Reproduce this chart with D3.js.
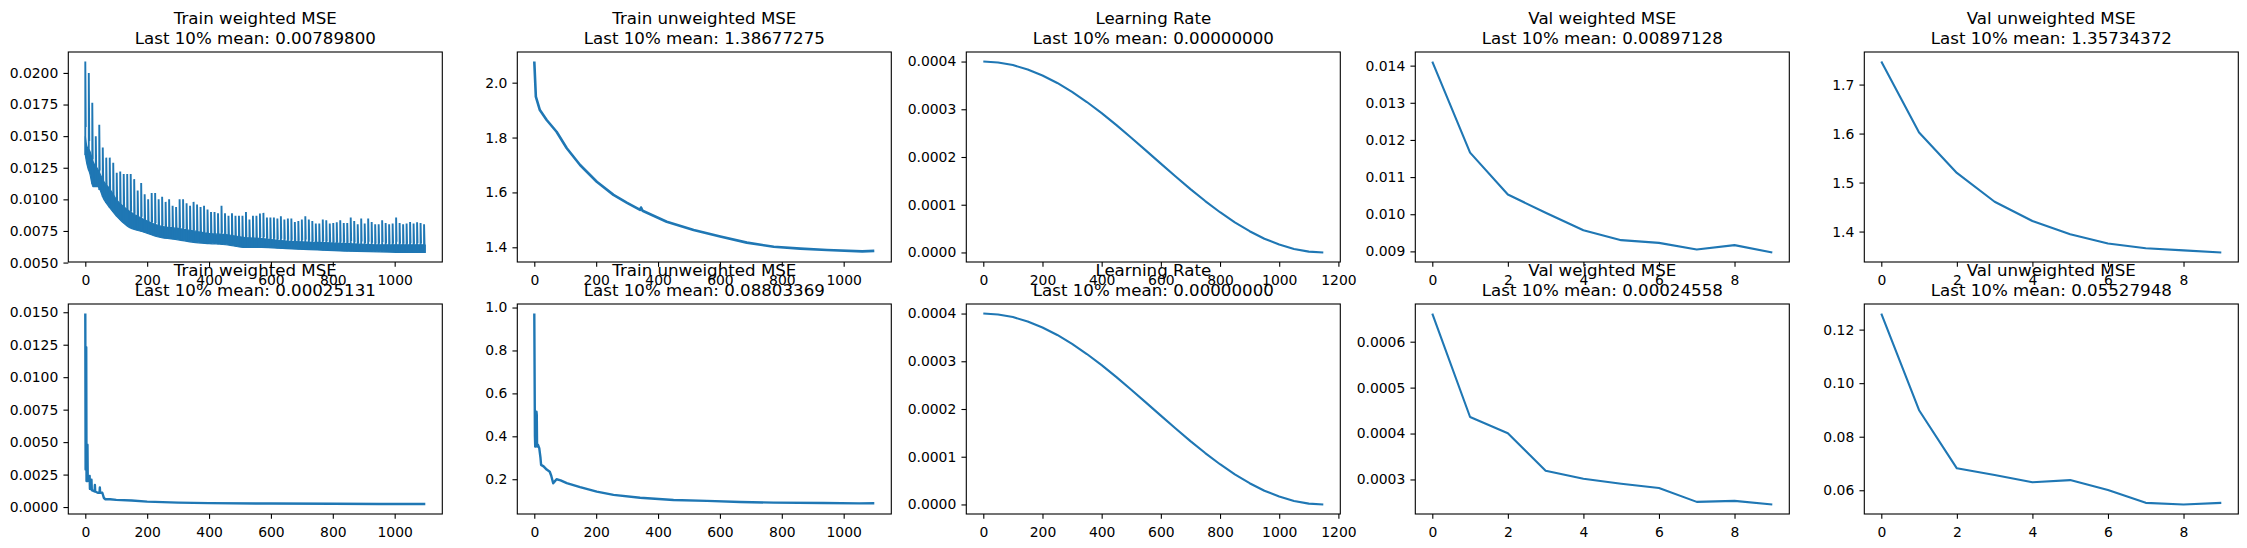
<!DOCTYPE html>
<html><head><meta charset="utf-8">
<script src="https://cdn.jsdelivr.net/npm/d3@7"></script>
<style>
body{margin:0;background:#fff}
svg text{font-family:"DejaVu Sans",sans-serif}
</style>
</head><body>
<svg id="c" width="2247" height="548"></svg>
<script>
// ---------------- DATA ----------------
const epochs = [0,1,2,3,4,5,6,7,8,9];

// Row 1, panel 1: Train weighted MSE — dense band + periodic spikes
const twBandSteps = [0,5,15,25,40,60,80,100,135,190,240,300,350,400,460,510,570,650,750,850,950,1050,1099];
const twBandLo = [0.0135,0.0128,0.0120,0.0110,0.0110,0.0100,0.0093,0.0087,0.0079,0.0074,0.0070,0.0068,0.0066,0.0065,0.0064,0.0062,0.0062,0.0061,0.0060,0.0059,0.00585,0.0058,0.0058];
const twBandHi = [0.0150,0.0142,0.0138,0.0130,0.0124,0.0114,0.0108,0.0100,0.0092,0.0084,0.0079,0.0077,0.0075,0.0073,0.0072,0.0070,0.0069,0.0067,0.0066,0.0065,0.0064,0.0064,0.0064];
const twPeaks = [0.0209,0.0200,0.01765,0.0150,0.0159,0.0141,0.0133,0.0133,0.0129,0.0121,
  0.0122,0.0120,0.0120,0.0120,0.0116,0.0107,0.0113,0.0104,0.0100,0.0105,
  0.0105,0.0100,0.0102,0.0098,0.0100,0.0095,0.0094,0.0100,0.0100,0.0097,
  0.0095,0.0098,0.0096,0.0094,0.0095,0.0092,0.0090,0.0090,0.0089,0.0095,
  0.0089,0.0087,0.0089,0.0087,0.0087,0.0087,0.0090,0.0084,0.0087,0.0087,
  0.00888,0.00893,0.00856,0.00856,0.00856,0.00848,0.00866,0.0084,0.00848,0.00848,
  0.00821,0.00829,0.0084,0.00866,0.0084,0.00829,0.00809,0.00809,0.0084,0.00835,
  0.00809,0.00813,0.00819,0.00835,0.00813,0.00813,0.00856,0.00829,0.00803,0.00848,
  0.00809,0.00848,0.00821,0.00803,0.00803,0.00835,0.00813,0.00803,0.00809,0.00856,
  0.00813,0.00803,0.00809,0.00821,0.00809,0.00819,0.00813,0.00803];
const twLastStep = 1095;

// Row 1, panel 2: Train unweighted MSE
const tuSteps = [0,5,18,40,72,105,148,202,256,300,342,345,350,428,515,601,687,774,860,946,1060,1099];
const tuVals  = [2.077,1.949,1.900,1.864,1.821,1.761,1.700,1.639,1.591,1.562,1.536,1.545,1.533,1.493,1.463,1.439,1.417,1.402,1.395,1.390,1.385,1.387];

// Learning rate (both rows)
const lrSteps = [0,50,100,150,200,250,300,350,400,450,500,550,600,650,700,750,800,850,900,950,1000,1050,1100,1149];
const lrVals  = [0.000400,0.0003981,0.0003926,0.0003834,0.0003708,0.0003551,0.0003364,0.0003152,0.0002918,0.0002668,0.0002404,0.0002134,
                 0.0001861,0.0001590,0.0001327,0.0001077,0.0000843,0.0000631,0.0000445,0.0000287,0.0000165,0.0000073,0.0000018,0.0];

// Row 1, val panels
const vwVals = [0.01411,0.011659,0.010530,0.010041,0.009569,0.009302,0.009230,0.009053,0.009168,0.00897128];
const vuVals = [1.747,1.602,1.5196,1.4608,1.4215,1.3945,1.3757,1.366,1.3615,1.35734372];

// Row 2, panel 1: Train weighted MSE
const bwSteps = [0,1,3,4,7,8,10,14,15,20,21,30,31,32,40,46,47,48,55,60,65,80,100,150,200,300,400,600,800,950,1000,1099];
const bwVals  = [0.0149,0.0029,0.0123,0.0020,0.0048,0.0020,0.0022,0.0024,0.0014,0.0021,0.0013,0.0012,0.0017,0.0012,0.0011,0.0011,0.0015,0.0011,0.0011,0.0007,0.0006,0.0006,0.00055,0.0005,0.00042,0.00034,0.0003,0.00027,0.00025,0.00024,0.00023,0.00023];

// Row 2, panel 2: Train unweighted MSE
const buSteps = [0,2,3,6,7,8,9,12,16,20,22,30,40,50,55,61,66,72,85,105,148,202,256,342,450,558,666,774,935,1050,1099];
const buVals  = [0.972,0.400,0.352,0.360,0.515,0.500,0.352,0.360,0.345,0.300,0.267,0.260,0.245,0.235,0.215,0.181,0.190,0.200,0.195,0.182,0.163,0.142,0.127,0.114,0.1035,0.099,0.094,0.091,0.0895,0.0875,0.088];

// Row 2, val panels
const vw2Vals = [0.0006613,0.000436,0.0004008,0.0003188,0.0003015,0.0002907,0.0002814,0.0002512,0.0002533,0.00024558];
const vu2Vals = [0.126,0.0899,0.0682,0.0657,0.0630,0.0638,0.0601,0.0553,0.0547,0.05527948];

// Tick values
const trainXTicks = [0,200,400,600,800,1000];
const lrXTicks = [0,200,400,600,800,1000,1200];
const valXTicks = [0,2,4,6,8];
const yT_tw  = [0.0050,0.0075,0.0100,0.0125,0.0150,0.0175,0.0200];
const yT_tu  = [1.4,1.6,1.8,2.0];
const yT_lr  = [0.0000,0.0001,0.0002,0.0003,0.0004];
const yT_vw  = [0.009,0.010,0.011,0.012,0.013,0.014];
const yT_vu  = [1.4,1.5,1.6,1.7];
const yT_bw  = [0.0000,0.0025,0.0050,0.0075,0.0100,0.0125,0.0150];
const yT_bu  = [0.2,0.4,0.6,0.8,1.0];
const yT_vw2 = [0.0003,0.0004,0.0005,0.0006];
const yT_vu2 = [0.06,0.08,0.10,0.12];

const titles = ["Train weighted MSE","Train unweighted MSE","Learning Rate","Val weighted MSE","Val unweighted MSE"];
const subsTop = ["Last 10% mean: 0.00789800","Last 10% mean: 1.38677275","Last 10% mean: 0.00000000","Last 10% mean: 0.00897128","Last 10% mean: 1.35734372"];
const subsBot = ["Last 10% mean: 0.00025131","Last 10% mean: 0.08803369","Last 10% mean: 0.00000000","Last 10% mean: 0.00024558","Last 10% mean: 0.05527948"];

// Domain floors for noisy series (lowest noise dips)
const tuMin = 1.3812, bwMin = 0.0002, buMin = 0.0825;

// ---------------- DRAWING ----------------
const svg = d3.select("#c");
svg.append("rect").attr("width",2247).attr("height",548).attr("fill","#fff");
const BLUE = "#1f77b4";
const TICKFS = 13.9, TITLEFS = 16.67;
let clipId = 0;

function padExt(a,b){const r=b-a;return [a-0.05*r,b+0.05*r];}

function panel(cfg){
  const left = 68.3 + cfg.col*449, top = cfg.row===0 ? 52 : 304, w = 374, h = 210;
  const x = d3.scaleLinear().domain(padExt(cfg.xExt[0],cfg.xExt[1])).range([left,left+w]);
  const y = d3.scaleLinear().domain(padExt(cfg.yExt[0],cfg.yExt[1])).range([top+h,top]);
  const g = svg.append("g");
  const id = "clip"+(clipId++);
  svg.append("clipPath").attr("id",id).append("rect").attr("x",left).attr("y",top).attr("width",w).attr("height",h);
  const pg = g.append("g").attr("clip-path",`url(#${id})`);
  cfg.draw(pg,x,y);

  const xa = g.append("g").attr("transform",`translate(0,${top+h})`)
    .call(d3.axisBottom(x).tickValues(cfg.xTicks).tickSize(4.86).tickPadding(8).tickFormat(d3.format("d")));
  const ya = g.append("g").attr("transform",`translate(${left},0)`)
    .call(d3.axisLeft(y).tickValues(cfg.yTicks).tickSize(4.86).tickPadding(5.2).tickFormat(cfg.yFmt));
  [xa,ya].forEach(a=>{
    a.select(".domain").remove();
    a.attr("font-family",null).attr("font-size",null);
    a.selectAll("line").attr("stroke","#000").attr("stroke-width",1.1);
    a.selectAll("text").attr("fill","#000").style("font-size",TICKFS+"px");
  });
  g.append("rect").attr("x",left).attr("y",top).attr("width",w).attr("height",h)
    .attr("fill","none").attr("stroke","#000").attr("stroke-width",1.1);

  const cx = left + w/2;
  g.append("text").attr("x",cx).attr("y",top-27.7).attr("text-anchor","middle").style("font-size",TITLEFS+"px").text(cfg.title);
  g.append("text").attr("x",cx).attr("y",top-7.7).attr("text-anchor","middle").style("font-size",TITLEFS+"px").text(cfg.sub);
}

function linePlot(xs,ys,sw){
  return (pg,x,y)=>{
    const pts = xs.map((d,i)=>[d,ys[i]]);
    pg.append("path").datum(pts).attr("fill","none").attr("stroke",BLUE)
      .attr("stroke-width",sw||2.1).attr("stroke-linejoin","round")
      .attr("d",d3.line().x(d=>x(d[0])).y(d=>y(d[1])));
  };
}

function spikePlot(pg,x,y){
  const band = twBandSteps.map((s,i)=>({s,lo:twBandLo[i],hi:twBandHi[i]}));
  pg.append("path").datum(band).attr("fill",BLUE).attr("stroke",BLUE).attr("stroke-width",1.2)
    .attr("d",d3.area().x(d=>x(d.s)).y0(d=>y(d.lo)).y1(d=>y(d.hi)).curve(d3.curveMonotoneX));
  const loAt = d3.scaleLinear().domain(twBandSteps).range(twBandLo);
  const n = twPeaks.length;
  const spikes = twPeaks.map((p,k)=>({s:k*twLastStep/(n-1), p}));
  pg.selectAll("path.sp").data(spikes).join("path").attr("class","sp")
    .attr("fill","none").attr("stroke",BLUE).attr("stroke-width",1.9)
    .attr("d",d=>d3.line()([[x(d.s),y(loAt(d.s))],[x(d.s),y(d.p)],[x(d.s+1.5),y(loAt(d.s)+(d.p-loAt(d.s))*0.3)]]));
}

const trainExt = [0,1099], lrExt=[0,1149], valExt=[0,9];
const f4 = d3.format(".4f"), f3 = d3.format(".3f"), f1 = d3.format(".1f"), f2 = d3.format(".2f");

const cfgs = [
  {row:0,col:0,xExt:trainExt,yExt:[d3.min(twBandLo),d3.max(twPeaks)],xTicks:trainXTicks,yTicks:yT_tw,yFmt:f4,draw:spikePlot},
  {row:0,col:1,xExt:trainExt,yExt:[tuMin,d3.max(tuVals)],xTicks:trainXTicks,yTicks:yT_tu,yFmt:f1,draw:linePlot(tuSteps,tuVals,2.6)},
  {row:0,col:2,xExt:lrExt,yExt:d3.extent(lrVals),xTicks:lrXTicks,yTicks:yT_lr,yFmt:f4,draw:linePlot(lrSteps,lrVals,2.1)},
  {row:0,col:3,xExt:valExt,yExt:d3.extent(vwVals),xTicks:valXTicks,yTicks:yT_vw,yFmt:f3,draw:linePlot(epochs,vwVals,2.1)},
  {row:0,col:4,xExt:valExt,yExt:d3.extent(vuVals),xTicks:valXTicks,yTicks:yT_vu,yFmt:f1,draw:linePlot(epochs,vuVals,2.1)},
  {row:1,col:0,xExt:trainExt,yExt:[bwMin,d3.max(bwVals)],xTicks:trainXTicks,yTicks:yT_bw,yFmt:f4,draw:linePlot(bwSteps,bwVals,2.4)},
  {row:1,col:1,xExt:trainExt,yExt:[buMin,d3.max(buVals)],xTicks:trainXTicks,yTicks:yT_bu,yFmt:f1,draw:linePlot(buSteps,buVals,2.4)},
  {row:1,col:2,xExt:lrExt,yExt:d3.extent(lrVals),xTicks:lrXTicks,yTicks:yT_lr,yFmt:f4,draw:linePlot(lrSteps,lrVals,2.1)},
  {row:1,col:3,xExt:valExt,yExt:d3.extent(vw2Vals),xTicks:valXTicks,yTicks:yT_vw2,yFmt:f4,draw:linePlot(epochs,vw2Vals,2.1)},
  {row:1,col:4,xExt:valExt,yExt:d3.extent(vu2Vals),xTicks:valXTicks,yTicks:yT_vu2,yFmt:f2,draw:linePlot(epochs,vu2Vals,2.1)}
];
cfgs.forEach(c=>{
  c.title = titles[c.col];
  c.sub = (c.row===0?subsTop:subsBot)[c.col];
  panel(c);
});
</script>
</body></html>
